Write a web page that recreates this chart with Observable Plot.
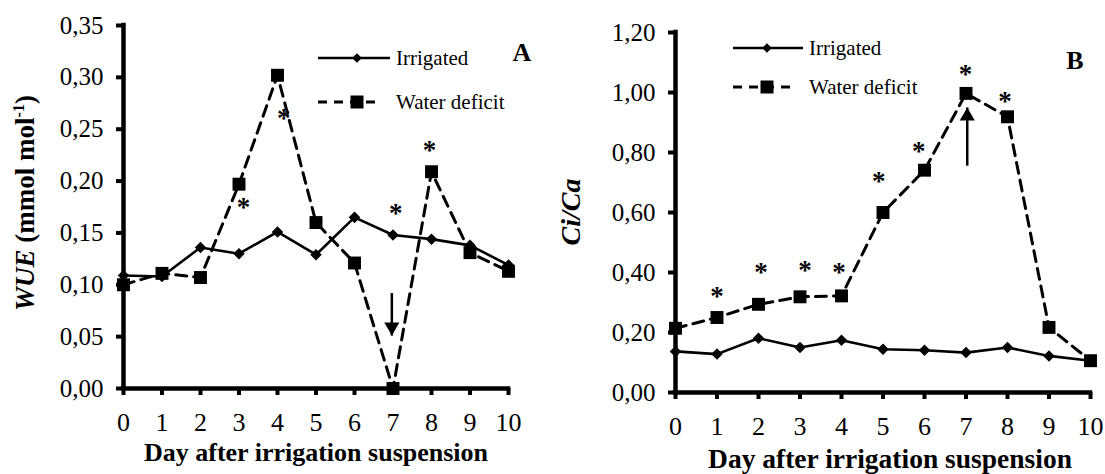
<!DOCTYPE html>
<html><head><meta charset="utf-8">
<script src="https://cdn.jsdelivr.net/npm/d3@7"></script>
<script src="https://cdn.jsdelivr.net/npm/@observablehq/plot@0.6"></script>
<style>
body{margin:0;background:#fff;}
#wrap{position:relative;width:1105px;height:474px;overflow:hidden;background:#fff;}
#wrap > svg{position:absolute;top:0;}
#wrap svg text{font-family:"Liberation Serif","Times New Roman",serif;}
</style></head><body><div id="wrap"></div>
<script>
// ---- data ----
const days = [0,1,2,3,4,5,6,7,8,9,10];
const seriesNames = ["Irrigated", "Water deficit"];

const wueIrrigated = [0.109,0.108,0.136,0.130,0.151,0.129,0.165,0.148,0.144,0.138,0.119];
const wueDeficit   = [0.100,0.111,0.107,0.197,0.302,0.160,0.121,0.000,0.209,0.131,0.113];
const wueStarDays   = [3.12,4.16,7.07,7.95];
const wueStarValues = [0.179,0.265,0.174,0.234];
const wueArrowDay  = [6.97];
const wueArrowFrom = [0.092];
const wueArrowTo   = [0.051];
const wueTicks = [0,0.05,0.10,0.15,0.20,0.25,0.30,0.35];

const ciIrrigated = [0.137,0.128,0.181,0.150,0.174,0.144,0.141,0.133,0.150,0.122,0.106];
const ciDeficit   = [0.214,0.250,0.294,0.319,0.322,0.600,0.741,0.997,0.919,0.217,0.106];
const ciStarDays   = [1.00,2.06,3.12,3.94,4.90,5.86,6.99,7.94];
const ciStarValues = [0.337,0.417,0.424,0.417,0.719,0.819,1.078,0.986];
const ciArrowDay  = [7.03];
const ciArrowFrom = [0.756];
const ciArrowTo   = [0.950];
const ciTicks = [0,0.20,0.40,0.60,0.80,1.00,1.20];

const xTitle = "Day after irrigation suspension";

// ---- helpers ----
const FONT = "Liberation Serif, Times New Roman, serif";
const fmt = d => d.toFixed(2).replace(".", ",");
const rows = (vals) => days.map((d, i) => ({day: d, value: vals[i]}));

function panel(o) {
  const irr = rows(o.irr), def = rows(o.def);
  const stars = o.starX.map((x, i) => ({x, y: o.starY[i]}));
  const arrows = o.arrowX.map((x, i) => ({x, from: o.arrowFrom[i], to: o.arrowTo[i]}));
  const up = o.arrowTo[0] > o.arrowFrom[0];
  const svg = Plot.plot({
    width: o.width, height: 474,
    marginLeft: o.ml, marginRight: o.mr, marginTop: o.mt, marginBottom: o.mb,
    style: {fontFamily: FONT, fontSize: "25px", color: "#000", background: "transparent", overflow: "visible"},
    x: {domain: [0, 10]},
    y: {domain: [0, o.yMax]},
    marks: [
      Plot.axisX({ticks: days, tickFormat: d => String(d), tickSize: 7, tickPadding: 17, strokeWidth: 4, fontSize: 26, fontFamily: FONT, label: null}),
      Plot.axisY({ticks: o.yTicks, tickFormat: fmt, tickSize: 7, tickPadding: 13, strokeWidth: 4, fontSize: 25, fontFamily: FONT, label: null}),
      Plot.ruleX([0], {stroke: "#000", strokeWidth: 4.5, strokeLinecap: "square"}),
      Plot.ruleY([0], {stroke: "#000", strokeWidth: 4.5, strokeLinecap: "square"}),
      Plot.line(def, {x: "day", y: "value", stroke: "#000", strokeWidth: 3, strokeDasharray: "11,7"}),
      Plot.line(irr, {x: "day", y: "value", stroke: "#000", strokeWidth: 2.6}),
      Plot.dot(def, {x: "day", y: "value", symbol: "square", r: 7.3, fill: "#000", stroke: null}),
      Plot.dot(irr, {x: "day", y: "value", symbol: "square", rotate: 45, r: 4.6, fill: "#000", stroke: null}),
      Plot.text(stars, {x: "x", y: "y", text: () => "*", fontSize: 27, fontWeight: "bold", fontFamily: FONT, dy: 5, fill: "#000"}),
      Plot.link(arrows, {x1: "x", x2: "x", y1: "from", y2: "to", stroke: "#000", strokeWidth: 2.5}),
      Plot.dot(arrows, {x: "x", y: "to", symbol: "triangle", rotate: up ? 0 : 180, r: 5.6, fill: "#000", stroke: null, dy: up ? 8.7 : -8.7})
    ]
  });
  svg.setAttribute("font-family", FONT);
  return svg;
}

const wrap = document.getElementById("wrap");
const A = panel({irr: wueIrrigated, def: wueDeficit, starX: wueStarDays, starY: wueStarValues,
  arrowX: wueArrowDay, arrowFrom: wueArrowFrom, arrowTo: wueArrowTo,
  yMax: 0.35, yTicks: wueTicks, width: 550, ml: 123, mr: 42, mt: 25, mb: 86});
A.style.left = "0px";
wrap.appendChild(A);
const B = panel({irr: ciIrrigated, def: ciDeficit, starX: ciStarDays, starY: ciStarValues,
  arrowX: ciArrowDay, arrowFrom: ciArrowFrom, arrowTo: ciArrowTo,
  yMax: 1.2, yTicks: ciTicks, width: 555, ml: 125, mr: 15, mt: 32, mb: 82});
B.style.left = "550px";
wrap.appendChild(B);

// ---- overlay: legends, panel letters, axis titles ----
const ov = d3.select(wrap).append("svg")
  .attr("width", 1105).attr("height", 474).attr("font-family", FONT)
  .style("left", "0px").style("pointer-events", "none");

function legend(x0, yIrr, yDef, xEnd1, xEnd2, xm) {
  ov.append("line").attr("x1", x0).attr("x2", xEnd1).attr("y1", yIrr).attr("y2", yIrr)
    .attr("stroke", "#000").attr("stroke-width", 2.6);
  ov.append("rect").attr("x", -3.4).attr("y", -3.4).attr("width", 6.8).attr("height", 6.8)
    .attr("transform", `translate(${xm},${yIrr}) rotate(45)`).attr("fill", "#000");
  ov.append("line").attr("x1", x0).attr("x2", xEnd2).attr("y1", yDef).attr("y2", yDef)
    .attr("stroke", "#000").attr("stroke-width", 3).attr("stroke-dasharray", "9,7");
  ov.append("rect").attr("x", xm - 6.5).attr("y", yDef - 6.5).attr("width", 13).attr("height", 13).attr("fill", "#000");
  ov.append("text").attr("x", xEnd1 + 6).attr("y", yIrr + 7).attr("font-size", 21).text(seriesNames[0]);
  ov.append("text").attr("x", xEnd1 + 6).attr("y", yDef + 7).attr("font-size", 21).text(seriesNames[1]);
}
legend(318, 58, 102, 390, 377, 357);
legend(733, 48, 87, 803, 790, 767);

ov.append("text").attr("x", 522).attr("y", 61).attr("text-anchor", "middle")
  .attr("font-size", 26).attr("font-weight", "bold").text("A");
ov.append("text").attr("x", 1075).attr("y", 69).attr("text-anchor", "middle")
  .attr("font-size", 26).attr("font-weight", "bold").text("B");

ov.append("text").attr("x", 316).attr("y", 461).attr("text-anchor", "middle")
  .attr("font-size", 26).attr("font-weight", "bold").text(xTitle);
ov.append("text").attr("x", 890).attr("y", 468).attr("text-anchor", "middle")
  .attr("font-size", 27.5).attr("font-weight", "bold").text(xTitle);

const ya = ov.append("text").attr("transform", "translate(25,203) rotate(-90)")
  .attr("text-anchor", "middle").attr("dy", "0.35em").attr("font-size", 27).attr("font-weight", "bold");
ya.append("tspan").attr("font-style", "italic").text("WUE");
ya.append("tspan").text(" (mmol mol");
ya.append("tspan").attr("font-size", 16).attr("dy", -10).text("-1");
ya.append("tspan").attr("dy", 10).text(")");

ov.append("text").attr("transform", "translate(570,212) rotate(-90)")
  .attr("text-anchor", "middle").attr("dy", "0.35em").attr("font-size", 28)
  .attr("font-weight", "bold").attr("font-style", "italic").text("Ci/Ca");
</script></body></html>
